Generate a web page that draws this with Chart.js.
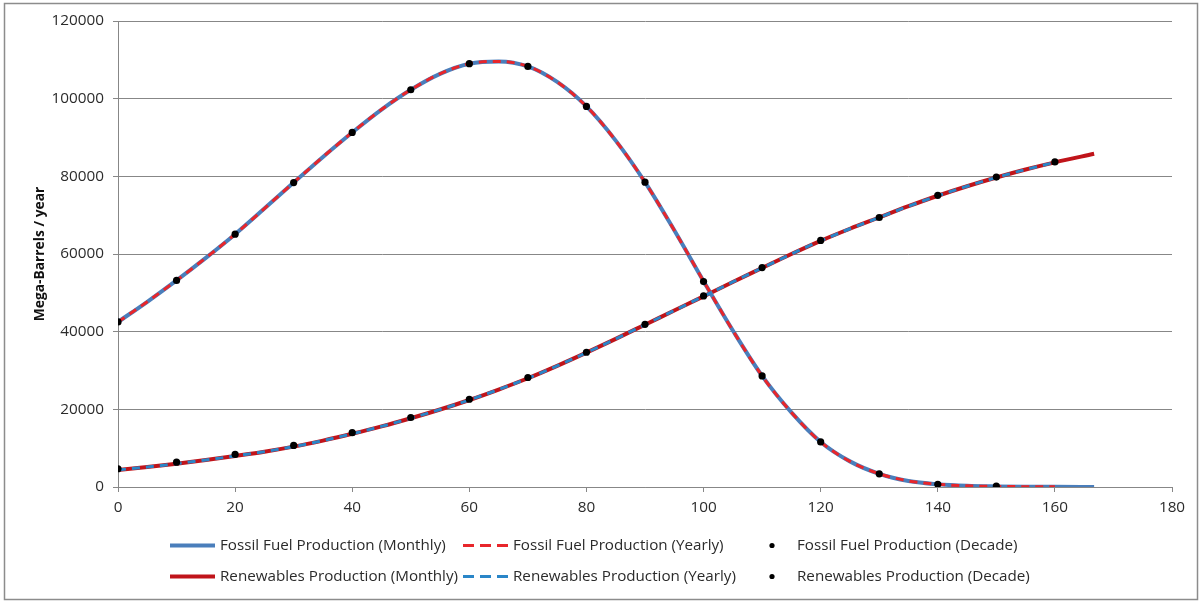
<!DOCTYPE html>
<html>
<head>
<meta charset="utf-8">
<title>Fossil Fuel and Renewables Production</title>
<script src="https://cdn.jsdelivr.net/npm/chart.js@4.4.0/dist/chart.umd.min.js"></script>
<style>
  html, body { margin: 0; padding: 0; background: #ffffff; }
  #wrap { width: 1202px; height: 602px; position: relative; }
</style>
</head>
<body>
<div id="wrap"><canvas id="chart" width="1202" height="602"></canvas></div>
<script>
// Years from start, sampled every 5 years for the smooth curves
const curveYears = [0, 5, 10, 15, 20, 25, 30, 35, 40, 45, 50, 55, 60, 65, 70, 75, 80,
                    85, 90, 95, 100, 105, 110, 115, 120, 125, 130, 135, 140, 145, 150, 155, 160];
// Monthly series run a little past the last full year
const monthlyYears = [0, 5, 10, 15, 20, 25, 30, 35, 40, 45, 50, 55, 60, 65, 70, 75, 80,
                      85, 90, 95, 100, 105, 110, 115, 120, 125, 130, 135, 140, 145, 150, 155, 160, 166.7];
const decadeYears = [0, 10, 20, 30, 40, 50, 60, 70, 80, 90, 100, 110, 120, 130, 140, 150, 160];

// Mega-barrels per year
const fossilYearly = [42500, 47700, 53200, 59000, 65100, 71700, 78400, 85000, 91300, 97200, 102300,
                      106400, 109000, 109600, 108300, 104300, 98000, 89200, 78500, 66100, 53000,
                      40300, 28600, 19200, 11600, 6600, 3400, 1550, 700, 300, 150, 80, 40];
const fossilMonthly = [42500, 47700, 53200, 59000, 65100, 71700, 78400, 85000, 91300, 97200, 102300,
                       106400, 109000, 109600, 108300, 104300, 98000, 89200, 78500, 66100, 53000,
                       40300, 28600, 19200, 11600, 6600, 3400, 1550, 700, 300, 150, 80, 40, 0];
const fossilDecade = [42500, 53200, 65100, 78400, 91300, 102300, 109000, 108300, 98000, 78500,
                      52900, 28600, 11600, 3400, 700, 200];

const renewYearly = [4400, 5150, 6000, 6950, 8000, 9100, 10400, 11950, 13700, 15600, 17700,
                     19950, 22400, 25100, 28000, 31200, 34600, 38150, 41800, 45450, 49100,
                     52800, 56400, 60000, 63400, 66500, 69400, 72300, 75000, 77450, 79700, 81750, 83600];
const renewMonthly = [4400, 5150, 6000, 6950, 8000, 9100, 10400, 11950, 13700, 15600, 17700,
                      19950, 22400, 25100, 28000, 31200, 34600, 38150, 41800, 45450, 49100,
                      52800, 56400, 60000, 63400, 66500, 69400, 72300, 75000, 77450, 79700, 81750, 83600, 85800];
const renewDecade = [4700, 6400, 8400, 10700, 14000, 17900, 22600, 28200, 34700, 41900,
                     49200, 56500, 63500, 69400, 75100, 79800, 83700];

// Axis ticks
const xTicks = [0, 20, 40, 60, 80, 100, 120, 140, 160, 180];
const yTicks = [0, 20000, 40000, 60000, 80000, 100000, 120000];

const pairs = (xs, ys) => ys.map((y, i) => ({ x: xs[i], y: y }));

const FONT = '"Open Sans", "Liberation Sans", sans-serif';
const TEXT = '#2b2b2b';
const GRID = '#878787';

const C_FOSSIL_M = '#4A7EBB';
const C_FOSSIL_Y = '#E8262B';
const C_RENEW_M = '#C0141A';
const C_RENEW_Y = '#2A86C8';

const datasets = [
  { label: 'Fossil Fuel Production (Monthly)', data: pairs(monthlyYears, fossilMonthly),
    borderColor: C_FOSSIL_M, borderWidth: 4, pointRadius: 0, order: 3,
    cubicInterpolationMode: 'monotone', legendKind: 'solid' },
  { label: 'Fossil Fuel Production (Yearly)', data: pairs(curveYears, fossilYearly),
    borderColor: C_FOSSIL_Y, borderWidth: 3, borderDash: [8, 6], pointRadius: 0, order: 2,
    cubicInterpolationMode: 'monotone', legendKind: 'dash' },
  { label: 'Fossil Fuel Production (Decade)', data: pairs(decadeYears, fossilDecade),
    showLine: false, pointRadius: 3.6, pointBackgroundColor: '#000000', pointBorderWidth: 0,
    order: 1, legendKind: 'dot' },
  { label: 'Renewables Production (Monthly)', data: pairs(monthlyYears, renewMonthly),
    borderColor: C_RENEW_M, borderWidth: 4, pointRadius: 0, order: 3,
    cubicInterpolationMode: 'monotone', legendKind: 'solid' },
  { label: 'Renewables Production (Yearly)', data: pairs(curveYears, renewYearly),
    borderColor: C_RENEW_Y, borderWidth: 3, borderDash: [8, 6], pointRadius: 0, order: 2,
    cubicInterpolationMode: 'monotone', legendKind: 'dash' },
  { label: 'Renewables Production (Decade)', data: pairs(decadeYears, renewDecade),
    showLine: false, pointRadius: 3.6, pointBackgroundColor: '#000000', pointBorderWidth: 0,
    order: 1, legendKind: 'dot' }
];

// Two-row legend in three aligned columns, plus the outer frame
const gridLegend = {
  id: 'gridLegend',
  afterDraw(chart) {
    const ctx = chart.ctx;
    ctx.save();
    ctx.strokeStyle = '#8c8c8c';
    ctx.lineWidth = 1.5;
    ctx.strokeRect(4.5, 3.5, 1193, 596);

    const rowsY = [545.5, 576.5];
    const cols = [{ sx: 170, tx: 220 }, { sx: 463, tx: 513 }, { sx: 772, tx: 797 }];
    ctx.font = '15.2px ' + FONT;
    ctx.textBaseline = 'middle';
    ctx.textAlign = 'left';
    chart.data.datasets.forEach((ds, i) => {
      const y = rowsY[Math.floor(i / 3)];
      const col = cols[i % 3];
      ctx.save();
      if (ds.legendKind === 'dot') {
        ctx.fillStyle = '#000000';
        ctx.beginPath();
        ctx.arc(col.sx, y, 2.6, 0, Math.PI * 2);
        ctx.fill();
      } else {
        ctx.strokeStyle = ds.borderColor;
        ctx.lineWidth = ds.legendKind === 'solid' ? 4 : 3;
        ctx.setLineDash(ds.legendKind === 'dash' ? [11, 6] : []);
        ctx.beginPath();
        ctx.moveTo(col.sx, y);
        ctx.lineTo(col.sx + 45, y);
        ctx.stroke();
      }
      ctx.restore();
      ctx.fillStyle = TEXT;
      ctx.fillText(ds.label, col.tx, y);
    });
    ctx.restore();
  }
};

new Chart(document.getElementById('chart'), {
  type: 'line',
  data: { datasets: datasets },
  plugins: [gridLegend],
  options: {
    responsive: false,
    animation: false,
    events: [],
    layout: { padding: { top: 21, right: 30, bottom: 0, left: 0 } },
    plugins: { legend: { display: false }, tooltip: { enabled: false } },
    scales: {
      x: {
        type: 'linear',
        min: 0, max: 180,
        afterBuildTicks: s => { s.ticks = xTicks.map(v => ({ value: v })); },
        afterFit: s => { s.height = 115; },
        grid: { drawOnChartArea: false, drawTicks: true, tickLength: 5, color: GRID, lineWidth: 1 },
        border: { color: GRID, width: 1 },
        ticks: { font: { family: FONT, size: 15.3 }, color: TEXT, padding: 6, maxRotation: 0,
                 callback: v => String(v) }
      },
      y: {
        min: 0, max: 120000,
        afterBuildTicks: s => { s.ticks = yTicks.map(v => ({ value: v })); },
        afterFit: s => { s.width = 118; },
        grid: { drawTicks: true, tickLength: 5, color: GRID, lineWidth: 1 },
        border: { color: GRID, width: 1 },
        ticks: { font: { family: FONT, size: 15.3 }, color: TEXT, padding: 9,
                 callback: v => String(v) },
        title: {
          display: true,
          text: 'Mega-Barrels / year',
          color: '#111111',
          font: { family: FONT, size: 13.8, weight: 'bold' },
          padding: { top: 32, bottom: 0 }
        }
      }
    }
  }
});
</script>
</body>
</html>
